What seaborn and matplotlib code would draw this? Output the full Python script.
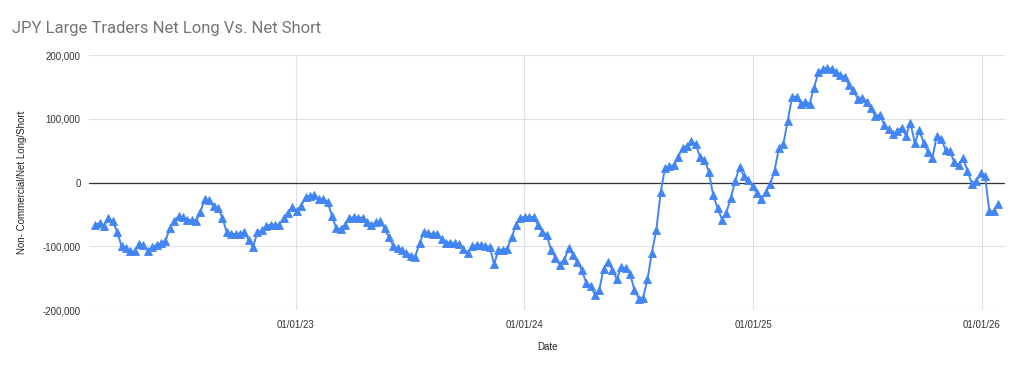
import matplotlib
matplotlib.use("Agg")
import matplotlib.pyplot as plt
import matplotlib.dates as mdates
import matplotlib.ticker as mticker
import seaborn as sns
import pandas as pd

# ---- data ----
start_date = "2022-02-15"
net_positions = [
    -66000, -64000, -68000, -56000, -61000, -77000, -100000, -102000, -108000, -108000,
    -96000, -98000, -108000, -101000, -98000, -95000, -92000, -72000, -60000, -53000,
    -54000, -58000, -59000, -60000, -46000, -25000, -28000, -37000, -40000, -55000,
    -78000, -80000, -81000, -80000, -78000, -90000, -101000, -78000, -75000, -68000,
    -66000, -66000, -66000, -55000, -47000, -38000, -45000,
    -36000, -23000, -21000, -19000, -26000, -26000, -30000, -52000, -72000, -73000,
    -66000, -56000, -54000, -55000, -55000, -62000, -67000, -62000, -61000, -72000,
    -86000, -99000, -103000, -106000, -110000, -115000, -116000, -95000, -78000, -79000,
    -81000, -80000, -88000, -94000, -94000, -95000, -97000, -104000, -111000, -100000,
    -98000, -98000, -99000, -101000, -128000, -106000, -105000, -104000, -86000, -66000,
    -55000, -54000, -54000, -54000, -66000, -77000,
    -82000, -106000, -118000, -129000, -122000, -103000, -113000, -125000, -137000, -157000,
    -162000, -176000, -168000, -135000, -124000, -137000, -152000, -133000, -134000, -143000,
    -168000, -182000, -181000, -152000, -110000, -75000, -15000, 23000, 26000, 27000,
    40000, 55000, 57000, 65000, 60000, 40000, 36000, 17000, -20000, -40000,
    -58000, -47000, -24000, 2000, 25000, 10000, 4000, -6000, -16000, -26000,
    -15000, -2000,
    19000, 55000, 61000, 97000, 135000, 135000, 124000, 127000, 124000, 149000,
    174000, 178000, 180000, 178000, 174000, 169000, 166000, 153000, 145000, 131000,
    133000, 127000, 117000, 104000, 107000, 91000, 84000, 76000, 81000, 86000,
    74000, 94000, 62000, 82000, 63000, 48000, 39000, 73000, 69000, 52000,
    49000, 32000, 28000, 39000, 19000, -2000, 2000, 15000, 11000, -45000,
    -45000, -33000,
]
dates = pd.date_range(start_date, periods=len(net_positions), freq="7D")
x_tick_dates = pd.to_datetime(["2023-01-01", "2024-01-01", "2025-01-01", "2026-01-01"])
y_ticks = [-200000, -100000, 0, 100000, 200000]

title = "JPY Large Traders Net Long Vs. Net Short"
x_label = "Date"
y_label = "Non- Commercial/Net Long/Short"

df = pd.DataFrame({"Date": dates, "Net": net_positions})

# ---- style ----
sns.set_style("white")
plt.rcParams["font.family"] = ["Liberation Sans", "DejaVu Sans"]

fig = plt.figure(figsize=(10.24, 3.71), dpi=100)
ax = fig.add_axes([89 / 1024, 1 - 310 / 371, (1005 - 89) / 1024, (310 - 55.3) / 371])

blue = "#4285F4"
sns.lineplot(data=df, x="Date", y="Net", ax=ax, color=blue, linewidth=1.4,
             marker="^", markersize=5.4, markeredgecolor=blue, markerfacecolor=blue,
             markeredgewidth=0.6, zorder=3)

ax.set_ylim(-200000, 200000)
ax.set_xlim(pd.Timestamp("2022-02-05"), pd.Timestamp("2026-02-07"))
ax.set_yticks(y_ticks)
ax.yaxis.set_major_formatter(mticker.FuncFormatter(lambda v, p: f"{int(v):,}"))
ax.set_xticks(x_tick_dates)
ax.xaxis.set_major_formatter(mdates.DateFormatter("%m/%d/%y"))

ax.grid(True, axis="both", color="#e0e0e0", linewidth=0.8, zorder=0)
ax.axhline(0, color="#333333", linewidth=0.9, zorder=2)
for s in ax.spines.values():
    s.set_visible(False)

ax.tick_params(axis="both", length=0, labelsize=7, colors="#333333")
ax.tick_params(axis="y", pad=6)
ax.tick_params(axis="x", pad=7)

ax.set_xlabel(x_label, fontsize=7, color="#222222")
ax.set_ylabel(y_label, fontsize=7, color="#222222")
ax.xaxis.set_label_coords((547 - 89) / (1005 - 89), -(347 - 310) / (310 - 55.3))
ax.yaxis.set_label_coords(-(89 - 22) / (1005 - 89), 0.5)
ax.xaxis.label.set_va("center")
ax.yaxis.label.set_va("center")

fig.text(12 / 1024, 1 - 28 / 371, title, fontsize=12, color="#757575",
         ha="left", va="center", family=["Roboto", "DejaVu Sans"])

fig.savefig("out.png", dpi=100, facecolor="white")
